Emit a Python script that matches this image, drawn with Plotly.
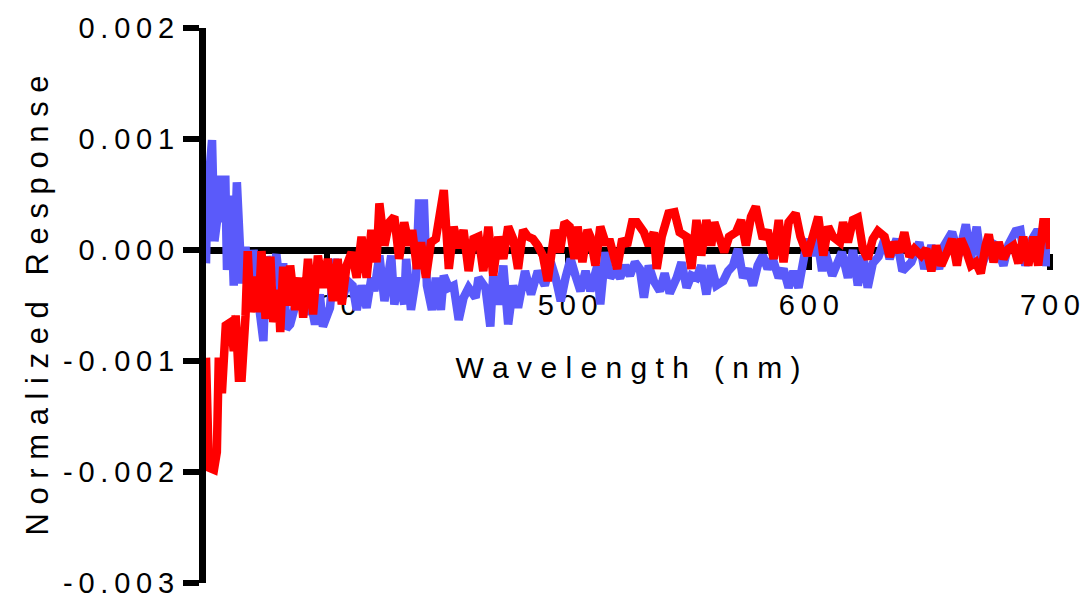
import plotly.graph_objects as go

# Wavelength (nm) and normalized response for the two traces
blue_nm = [350, 350.5, 352.5, 353.5, 354.5, 356, 357, 358, 358.7, 360.3, 361.5, 362.8, 364.8, 366.4,
           367.7, 369.7, 371.8, 373.8, 375.1, 377.1, 379.2, 380.8, 382, 383.3, 384.9, 389, 391.1, 393.1,
           395.2, 397.2, 398.5, 401.4, 403.4, 404.6, 406.7, 408.8, 410.8, 412.5, 414.5, 416.6, 418.6,
           419.8, 421.9, 424, 426.8, 428.1, 430.1, 432.2, 433, 435, 437.1, 438.3, 440.4, 441.6, 443.7,
           445.3, 447.4, 448.6, 450.7, 452.7, 454.8, 456.8, 458.9, 461.8, 463, 465.9, 467.9, 469.1, 471.2,
           473.3, 475.3, 477.4, 479.4, 482.3, 484.8, 487.6, 490.5, 493, 495, 497.1, 499.1, 501.2, 503.2,
           505.3, 507.4, 509.4, 512.3, 513.5, 515.6, 517.6, 519.7, 521.7, 523.8, 525.8, 527.9, 529.9,
           531.6, 533.6, 535.7, 538.2, 540.2, 542.3, 545.2, 547.2, 549.3, 551.3, 553.4, 555.4, 557.5,
           559.5, 561.6, 564.5, 566.5, 568.6, 570.6, 572.7, 574.7, 576.8, 578.8, 580.9, 582.9, 585,
           587.5, 589.5, 591.6, 593.6, 595.7, 597.7, 599.4, 601.4, 603.5, 605.5, 606.8, 609.7, 610.9,
           613.7, 616.2, 618.3, 620.3, 622.4, 624.4, 626.5, 628.9, 631.4, 633.5, 636.4, 638.8, 642.5,
           645.8, 647.9, 650.8, 654, 656.1, 659.4, 662.2, 665.1, 667.2, 669.6, 671.7, 675.4, 677.9,
           680.7, 682.8, 685.7, 687.7, 689.8, 691.8, 694.3, 696.3, 698.4, 700]
blue_resp = [-1.2e-4, 4.6e-4, 9.9e-4, 0.8e-4, 2.5e-4, 6.7e-4, 2.5e-4, 6.7e-4, -1.8e-4, 4.9e-4, -3.2e-4,
             6.1e-4, -3.0e-4, 0.3e-4, -5.4e-4, 0.0, -4.7e-4, -8.2e-4, -0.6e-4, -2.1e-4, -0.4e-4, -3.6e-4,
             -1.2e-4, -7.1e-4, -6.7e-4, -3.4e-4, -5.8e-4, -4.3e-4, -6.7e-4, -4.0e-4, -6.9e-4, -5.2e-4,
             -0.8e-4, -3.4e-4, -4.3e-4, -2.8e-4, -3.2e-4, -5.4e-4, -3.2e-4, -5.2e-4, -2.5e-4, -3.7e-4,
             -0.5e-4, -4.6e-4, -0.5e-4, -4.9e-4, -2.5e-4, -4.9e-4, -0.8e-4, -5.4e-4, -2.5e-4, 4.2e-4,
             4.2e-4, -3.2e-4, -5.4e-4, -2.5e-4, -5.4e-4, -2.3e-4, -3.4e-4, -3.2e-4, -6.3e-4, -4.3e-4,
             -3.4e-4, -4.3e-4, -2.5e-4, -3.4e-4, -6.9e-4, -2.3e-4, -4.9e-4, -1.4e-4, -6.7e-4, -3.2e-4,
             -5.2e-4, -1.9e-4, -4.0e-4, -1.9e-4, -3.2e-4, -1.1e-4, -2.5e-4, -4.6e-4, -2.5e-4, -0.8e-4,
             -2.3e-4, -3.7e-4, -1.9e-4, -3.7e-4, -1.4e-4, -4.9e-4, -0.2e-4, -2.5e-4, -1.9e-4, -2.5e-4,
             -1.4e-4, -2.3e-4, -1.1e-4, -1.7e-4, -4.3e-4, -1.4e-4, -2.8e-4, -3.7e-4, -2.1e-4, -3.9e-4,
             -2.5e-4, -1.1e-4, -3.4e-4, -2.3e-4, -2.5e-4, -1.4e-4, -4.0e-4, -1.4e-4, -3.2e-4, -2.8e-4,
             -1.9e-4, -1.4e-4, 0.1e-4, -2.5e-4, -1.7e-4, -3.2e-4, -1.4e-4, -0.5e-4, -1.7e-4, -0.8e-4,
             -2.5e-4, -1.7e-4, -3.4e-4, -1.9e-4, -3.4e-4, -0.5e-4, 1.0e-4, -0.5e-4, 1.0e-4, -1.9e-4,
             -0.2e-4, -2.3e-4, -1.7e-4, -0.2e-4, -2.5e-4, 0.0, -3.2e-4, -0.5e-4, -3.4e-4, -1.2e-4,
             -0.6e-4, 1.0e-4, -0.8e-4, 1.0e-4, -1.9e-4, -1.1e-4, 0.7e-4, -1.7e-4, 0.4e-4, -1.7e-4,
             0.4e-4, 1.6e-4, -0.5e-4, 2.3e-4, -0.8e-4, 2.1e-4, -1.4e-4, 0.7e-4, 0.4e-4, -1.4e-4, 0.5e-4,
             1.7e-4, 1.8e-4, -1.4e-4, 0.7e-4, 1.6e-4, 1.6e-4, -1.4e-4, 0.1e-4]

red_nm = [350, 351.2, 353.3, 354.5, 355.3, 356.6, 358.2, 360.3, 361.5, 362.3, 363.6, 364.8, 366.4,
          367.3, 368.5, 370.5, 371.8, 373, 374.7, 375.9, 376.7, 377.9, 380, 380.8, 382, 383.3, 384.9,
          387, 389, 390.3, 392.3, 394.4, 396.4, 398.5, 400.5, 402.6, 404.6, 406.3, 408.3, 410.4,
          412.5, 414.5, 416.6, 418.6, 420.7, 421.9, 424, 426, 428.1, 430.1, 432.2, 434.2, 435.5,
          437.5, 439.2, 441.2, 443.3, 445.3, 448.6, 450.7, 452.7, 454.8, 456.8, 458.9, 460.9, 463,
          465, 467.1, 469.1, 471.2, 473.3, 475.3, 477.4, 479.4, 481.5, 483.5, 485.6, 487.6, 489.7,
          491.7, 494.6, 496.7, 498.7, 500.8, 502.8, 504.1, 506.1, 508.2, 509.4, 511.5, 513.5, 515.6,
          517.6, 520.5, 522.6, 524.6, 526.7, 528.7, 531.6, 533.6, 535.7, 536.9, 539, 541.8, 544.3,
          546.4, 549.3, 551.3, 553.4, 555.4, 557.5, 559.5, 560.8, 562.8, 564.9, 566.9, 569.8, 571.9,
          573.9, 576, 578, 580.9, 582.9, 585.4, 587.5, 589.5, 591.6, 594.5, 596.5, 599.4, 601.4,
          603.9, 606, 608, 610, 612.9, 614.2, 616.2, 618.3, 620.3, 622.4, 624.4, 626.5, 628.6, 631.4,
          633.5, 635.5, 637.6, 639.6, 641.7, 643.8, 646.6, 648.7, 650.8, 652.8, 654.9, 657.3, 659.4,
          661.4, 663.1, 665.1, 667.2, 669.2, 671.3, 673.3, 674.6, 676.6, 678.7, 680.7, 682.8, 684.8,
          686.9, 688.9, 691, 693.1, 695.1, 697.2, 699.2, 700]
red_resp = [-9.7e-4, -19.6e-4, -19.8e-4, -18.2e-4, -9.7e-4, -12.9e-4, -6.8e-4, -6.5e-4, -9.1e-4, -5.9e-4,
            -11.5e-4, -11.5e-4, -5.9e-4, -0.1e-4, -5.6e-4, -2.4e-4, -5.6e-4, -0.1e-4, -6.2e-4, -2.4e-4,
            -0.6e-4, -6.5e-4, -3.6e-4, -7.4e-4, -1.5e-4, -5.0e-4, -1.4e-4, -5.4e-4, -2.5e-4, -6.1e-4,
            -0.8e-4, -5.8e-4, -0.5e-4, -3.4e-4, -0.8e-4, -4.6e-4, -0.8e-4, -4.9e-4, -1.4e-4, -0.2e-4,
            -2.5e-4, 1.2e-4, -2.5e-4, 1.8e-4, -1.1e-4, 4.2e-4, 0.4e-4, 2.5e-4, 3.0e-4, -0.8e-4, 2.5e-4,
            0.4e-4, 1.8e-4, -1.7e-4, 0.7e-4, -2.5e-4, 0.7e-4, 1.0e-4, 5.4e-4, -1.7e-4, 2.1e-4, 0.2e-4,
            1.8e-4, -1.9e-4, 1.0e-4, 1.2e-4, -1.9e-4, 2.1e-4, -2.3e-4, 1.2e-4, -0.8e-4, 2.1e-4, 1.0e-4,
            -1.7e-4, 1.8e-4, 1.2e-4, 1.0e-4, 0.4e-4, -0.5e-4, -2.8e-4, 1.8e-4, -0.2e-4, 2.5e-4, 2.1e-4,
            -0.8e-4, 2.1e-4, -1.1e-4, 1.8e-4, 1.2e-4, -1.4e-4, 2.1e-4, 0.7e-4, 0.7e-4, -1.7e-4, 1.0e-4,
            0.4e-4, 2.5e-4, 2.5e-4, 1.6e-4, 0.4e-4, 1.6e-4, -1.7e-4, 1.2e-4, 3.3e-4, 3.4e-4, 1.6e-4,
            1.2e-4, -1.7e-4, 2.7e-4, -0.5e-4, 2.7e-4, 0.4e-4, 2.5e-4, 1.2e-4, -0.2e-4, 1.2e-4, 1.6e-4,
            2.7e-4, 0.4e-4, 3.0e-4, 3.9e-4, 1.0e-4, 1.8e-4, -0.8e-4, 2.7e-4, -1.1e-4, 2.5e-4, 3.3e-4,
            1.2e-4, -0.5e-4, 1.0e-4, 3.0e-4, -0.5e-4, 2.1e-4, 1.2e-4, 0.7e-4, 2.5e-4, 0.7e-4, 2.7e-4,
            2.9e-4, 0.1e-4, -0.8e-4, 1.0e-4, 1.7e-4, 1.2e-4, -0.6e-4, 0.7e-4, -0.2e-4, 1.6e-4, -0.6e-4,
            0.1e-4, -0.5e-4, 0.1e-4, -1.9e-4, 0.4e-4, -1.4e-4, -0.2e-4, 1.0e-4, -1.4e-4, 1.0e-4, 0.0,
            -1.4e-4, -1.1e-4, -2.1e-4, 0.4e-4, 1.4e-4, -1.1e-4, 0.7e-4, -0.8e-4, 0.1e-4, 0.4e-4,
            -1.2e-4, 1.2e-4, -1.4e-4, 1.2e-4, -1.4e-4, 2.5e-4, 2.5e-4, 0.1e-4]

x_ticks = [400, 500, 600, 700]
x_tick_labels = ["400", "500", "600", "700"]
y_ticks = [0.002, 0.001, 0.0, -0.001, -0.002, -0.003]
y_tick_labels = ["0.002", "0.001", "0.000", "-0.001", "-0.002", "-0.003"]
x_title = "Wavelength (nm)"
y_title = "Normalized Response"

FONT = "Liberation Sans, Arial, sans-serif"
NBSP = "\u00a0"
THIN = "\u2009"


def spaced(text, gap):
    """Widen the tracking of a label by putting a fixed space between characters."""
    return gap.join(ch if ch != " " else NBSP for ch in text)


fig = go.Figure()
fig.add_trace(go.Scatter(x=blue_nm, y=blue_resp, mode="lines",
                         line=dict(color="#5A5AFA", width=8.5), showlegend=False))
fig.add_trace(go.Scatter(x=red_nm, y=red_resp, mode="lines",
                         line=dict(color="#FF0000", width=8.5), showlegend=False))

y_min, y_max = -0.003, 0.002
zero_frac = (0 - y_min) / (y_max - y_min)

fig.update_layout(
    width=1092, height=611,
    margin=dict(l=206, r=35, t=24, b=18),
    paper_bgcolor="white", plot_bgcolor="white",
    font=dict(family=FONT, color="black", size=29),
    xaxis=dict(
        range=[350, 700], anchor="free", position=zero_frac,
        showline=True, linecolor="black", linewidth=7,
        ticks="outside", ticklen=16, tickwidth=6, tickcolor="black",
        tickvals=x_ticks, ticktext=[spaced(t, THIN) for t in x_tick_labels],
        tickfont=dict(size=29), ticklabelstandoff=10,
        showgrid=False, zeroline=False, layer="below traces",
        title=dict(text=spaced(x_title, NBSP), font=dict(size=30), standoff=37),
    ),
    yaxis=dict(
        range=[y_min, y_max],
        showline=True, linecolor="black", linewidth=7,
        ticks="outside", ticklen=16, tickwidth=6, tickcolor="black",
        tickvals=y_ticks, ticktext=[spaced(t, THIN) for t in y_tick_labels],
        tickfont=dict(size=29), ticklabelstandoff=3,
        showgrid=False, zeroline=False, layer="below traces",
        title=dict(text=spaced(y_title, NBSP), font=dict(size=31), standoff=8),
    ),
)

fig.write_html("out.html")
